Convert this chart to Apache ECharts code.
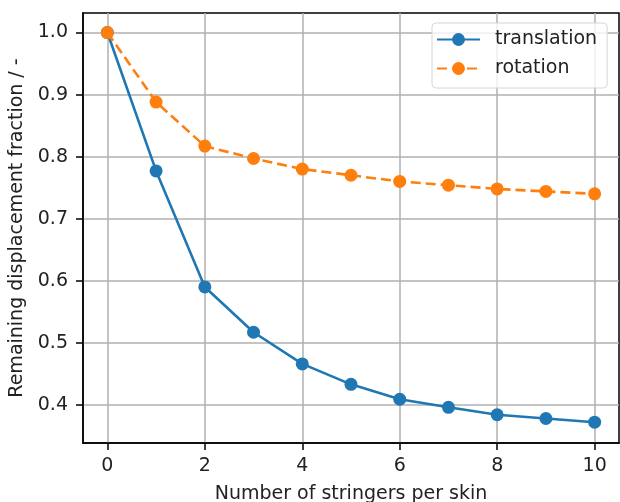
<!DOCTYPE html>
<html>
<head>
<meta charset="utf-8">
<title>Remaining displacement fraction</title>
<script src="https://cdn.jsdelivr.net/npm/echarts@6/dist/echarts.min.js"></script>
<style>
  html, body { margin: 0; padding: 0; background: #fff; }
  #chart { width: 620px; height: 502px; }
</style>
</head>
<body>
<div id="chart"></div>
<script>
// Number of stringers per skin
const stringers = [0, 1, 2, 3, 4, 5, 6, 7, 8, 9, 10];
// Remaining displacement fraction for each load case
const translation = [1.0, 0.777, 0.590, 0.517, 0.466, 0.433, 0.409, 0.396, 0.384, 0.378, 0.372];
const rotation = [1.0, 0.888, 0.817, 0.797, 0.780, 0.770, 0.760, 0.754, 0.748, 0.744, 0.740];
// Tick positions
const xTicks = [0, 2, 4, 6, 8, 10];
const yTicks = [0.4, 0.5, 0.6, 0.7, 0.8, 0.9, 1.0];

const FONT = 'DejaVu Sans';
const TEXT = '#222';
const FS = 19;

const chart = echarts.init(document.getElementById('chart'), null, { renderer: 'canvas' });

const pairs = (ys) => stringers.map((x, i) => [x, ys[i]]);

chart.setOption({
  animation: false,
  backgroundColor: '#fff',
  textStyle: { fontFamily: FONT },
  grid: {
    left: 83, right: 1, top: 13, bottom: 59,
    containLabel: false,
    outerBoundsMode: 'none',
    show: true, borderColor: '#000', borderWidth: 1.5, backgroundColor: 'transparent'
  },
  legend: {
    orient: 'vertical',
    left: 432, top: 23,
    padding: [6, 10, 9, 4],
    itemGap: 8,
    itemWidth: 43, itemHeight: 16,
    backgroundColor: 'rgba(255,255,255,0.8)',
    borderColor: '#d6d6d6', borderWidth: 1, borderRadius: 4,
    textStyle: { fontFamily: FONT, fontSize: FS, color: TEXT, lineHeight: 21, padding: [0, 0, 0, 10] },
    data: ['translation', 'rotation']
  },
  xAxis: {
    type: 'value',
    min: -0.5, max: 10.5,
    name: 'Number of stringers per skin',
    nameLocation: 'middle',
    nameGap: 42,
    nameTextStyle: { fontFamily: FONT, fontSize: FS, color: TEXT },
    axisLine: { show: true, onZero: false, lineStyle: { color: '#000', width: 1.5 } },
    axisTick: { show: true, inside: false, length: 7, customValues: xTicks, lineStyle: { color: '#000', width: 1.5 } },
    axisLabel: { customValues: xTicks, margin: 14, fontFamily: FONT, fontSize: FS, color: TEXT },
    splitLine: { show: true, lineStyle: { color: '#b0b0b0', width: 1.5 } }
  },
  yAxis: {
    type: 'value',
    min: 0.3385, max: 1.0315,
    name: 'Remaining displacement fraction / -',
    nameLocation: 'middle',
    nameGap: 55,
    nameTextStyle: { fontFamily: FONT, fontSize: FS, color: TEXT },
    axisLine: { show: true, onZero: false, lineStyle: { color: '#000', width: 1.5 } },
    axisTick: { show: true, inside: false, length: 7, customValues: yTicks, lineStyle: { color: '#000', width: 1.5 } },
    axisLabel: {
      customValues: yTicks, margin: 15, fontFamily: FONT, fontSize: FS, color: TEXT,
      formatter: (v) => v.toFixed(1)
    },
    splitLine: { show: true, lineStyle: { color: '#b0b0b0', width: 1.5 } }
  },
  series: [
    {
      name: 'translation',
      type: 'line',
      data: pairs(translation),
      color: '#1f77b4',
      symbol: 'circle', symbolSize: 13,
      lineStyle: { width: 2.6, color: '#1f77b4' },
      itemStyle: { color: '#1f77b4' },
      z: 3
    },
    {
      name: 'rotation',
      type: 'line',
      data: pairs(rotation),
      color: '#ff7f0e',
      symbol: 'circle', symbolSize: 13,
      lineStyle: { width: 2.6, color: '#ff7f0e', type: [10, 5] },
      itemStyle: { color: '#ff7f0e' },
      z: 4
    }
  ]
});
</script>
</body>
</html>
